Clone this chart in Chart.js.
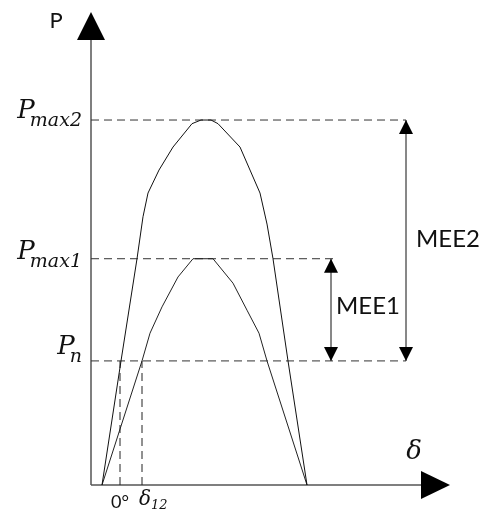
<!DOCTYPE html>
<html>
<head>
<meta charset="utf-8">
<script src="https://cdn.jsdelivr.net/npm/chart.js@4.4.1/dist/chart.umd.min.js"></script>
<style>
  body { margin: 0; background: #fff; }
  #wrap { width: 483px; height: 515px; position: relative; }
</style>
</head>
<body>
<div id="wrap"><canvas id="powerAngle"></canvas></div>
<script>
// load angle (plot units) and power (% of Pmax2) for the two P-δ curves
const deltaHigh = [5.5, 15, 23, 26, 28.5, 34, 41, 50.5, 55, 60, 63.5, 74.5, 79.5, 84.5, 88, 91, 98.5, 108];
const powerHigh = [0, 34, 62, 73.5, 80, 86.3, 92.6, 99, 100, 100, 99, 92.6, 86.3, 80, 71.5, 62, 34, 0];
const deltaLow = [5.5, 25.5, 29.5, 35.5, 43.5, 51, 55, 61, 71, 78, 84, 88, 108];
const powerLow = [0, 34, 41.6, 48.8, 57, 62, 62, 62, 55.3, 47.9, 41.6, 34, 0];

// horizontal reference levels
const levelNames = ['max2', 'max1', 'n'];
const levelValues = [100, 62, 34];
const levelEnds = [157.5, 123.5, 157.5];

// operating angles marked on the δ axis
const angleNames = ['0°', '12'];
const angleValues = [14.5, 25.5];

// margin arrows
const meeNames = ['MEE1', 'MEE2'];
const meeDelta = [120, 157.5];
const meeTop = [62, 100];
const meeBase = 34;

const toPoints = (xs, ys) => xs.map((x, i) => ({ x: x, y: ys[i] }));
const dash = [8, 5];

const datasets = [
  { data: toPoints(deltaHigh, powerHigh), borderColor: '#111', borderWidth: 1 },
  { data: toPoints(deltaLow, powerLow), borderColor: '#222', borderWidth: 1 }
];
levelValues.forEach((v, i) => {
  datasets.push({ data: [{ x: 0, y: v }, { x: levelEnds[i], y: v }], borderColor: '#333', borderWidth: 1, borderDash: dash });
});
angleValues.forEach(d => {
  datasets.push({ data: [{ x: d, y: 0 }, { x: d, y: meeBase }], borderColor: '#222', borderWidth: 1, borderDash: dash });
});
meeDelta.forEach((d, i) => {
  datasets.push({ data: [{ x: d, y: meeBase }, { x: d, y: meeTop[i] }], borderColor: '#111', borderWidth: 1 });
});

function arrowHead(ctx, tx, ty, dir, len, half) {
  // dir: 'up' | 'down' | 'right'
  ctx.beginPath();
  ctx.moveTo(tx, ty);
  if (dir === 'up') { ctx.lineTo(tx - half, ty + len); ctx.lineTo(tx + half, ty + len); }
  if (dir === 'down') { ctx.lineTo(tx - half, ty - len); ctx.lineTo(tx + half, ty - len); }
  if (dir === 'right') { ctx.lineTo(tx - len, ty - half); ctx.lineTo(tx - len, ty + half); }
  ctx.closePath();
  ctx.fill();
}

const diagram = {
  id: 'diagram',
  beforeDatasetsDraw(chart) {
    const { ctx, chartArea: a, scales: { x, y } } = chart;
    const x0 = x.getPixelForValue(0), y0 = y.getPixelForValue(0);
    ctx.save();
    ctx.strokeStyle = '#555';
    ctx.lineWidth = 1.5;
    ctx.beginPath();
    ctx.moveTo(x0, y0); ctx.lineTo(x0, a.top + 28);
    ctx.moveTo(x0, y0); ctx.lineTo(a.right - 29, y0);
    ctx.stroke();
    ctx.fillStyle = '#000';
    arrowHead(ctx, x0, a.top, 'up', 28, 14);
    arrowHead(ctx, a.right, y0, 'right', 29, 14);
    ctx.restore();
  },
  afterDatasetsDraw(chart) {
    const { ctx, chartArea: a, scales: { x, y } } = chart;
    const x0 = x.getPixelForValue(0), y0 = y.getPixelForValue(0);
    ctx.save();
    ctx.fillStyle = '#000';
    // margin arrow heads
    meeDelta.forEach((d, i) => {
      const px = x.getPixelForValue(d);
      arrowHead(ctx, px, y.getPixelForValue(meeTop[i]), 'up', 14, 7);
      arrowHead(ctx, px, y.getPixelForValue(meeBase), 'down', 14, 7);
    });

    ctx.fillStyle = '#111';
    ctx.textBaseline = 'alphabetic';
    // axis names
    ctx.font = '22px Lato';
    ctx.textAlign = 'center';
    ctx.fillText('P', x0 - 35, a.top + 16);
    ctx.font = 'italic 26px "DejaVu Serif"';
    ctx.fillText('δ', a.right - 36, y0 - 26);

    // level labels P_max2, P_max1, P_n
    const lift = [-2, 0, -7];
    ctx.textAlign = 'left';
    levelValues.forEach((v, i) => {
      const py = y.getPixelForValue(v) + lift[i];
      ctx.font = 'italic 19px "DejaVu Serif"';
      const sw = ctx.measureText(levelNames[i]).width;
      const sx = x0 - 9 - sw;
      ctx.fillText(levelNames[i], sx, py + 8);
      ctx.font = 'italic 26px "DejaVu Serif"';
      const pw = ctx.measureText('P').width;
      ctx.fillText('P', sx - pw * 0.72, py);
    });

    // angle labels under the δ axis
    ctx.font = '18px Lato';
    ctx.fillText(angleNames[0], x.getPixelForValue(angleValues[0]) - 9, y0 + 23);
    const dx = x.getPixelForValue(angleValues[1]) - 3;
    ctx.font = 'italic 20px "DejaVu Serif"';
    ctx.fillText('δ', dx, y0 + 20);
    const dw = ctx.measureText('δ').width;
    ctx.font = 'italic 13px "DejaVu Serif"';
    ctx.fillText(angleNames[1], dx + dw, y0 + 24);

    // margin labels
    ctx.font = '24px Lato';
    ctx.textBaseline = 'middle';
    ctx.fillText(meeNames[0], x.getPixelForValue(meeDelta[0]) + 5, 306);
    ctx.fillText(meeNames[1], x.getPixelForValue(meeDelta[1]) + 10, 239);
    ctx.restore();
  }
};

new Chart(document.getElementById('powerAngle'), {
  type: 'line',
  data: { datasets: datasets },
  options: {
    responsive: true,
    maintainAspectRatio: false,
    animation: false,
    layout: { padding: { left: 91, top: 12, right: 33, bottom: 30 } },
    elements: { point: { radius: 0 }, line: { tension: 0 } },
    plugins: { legend: { display: false }, tooltip: { enabled: false } },
    scales: {
      x: { type: 'linear', min: 0, max: 179.5, display: false },
      y: { type: 'linear', min: 0, max: 129.6, display: false }
    }
  },
  plugins: [diagram]
});
</script>
</body>
</html>
